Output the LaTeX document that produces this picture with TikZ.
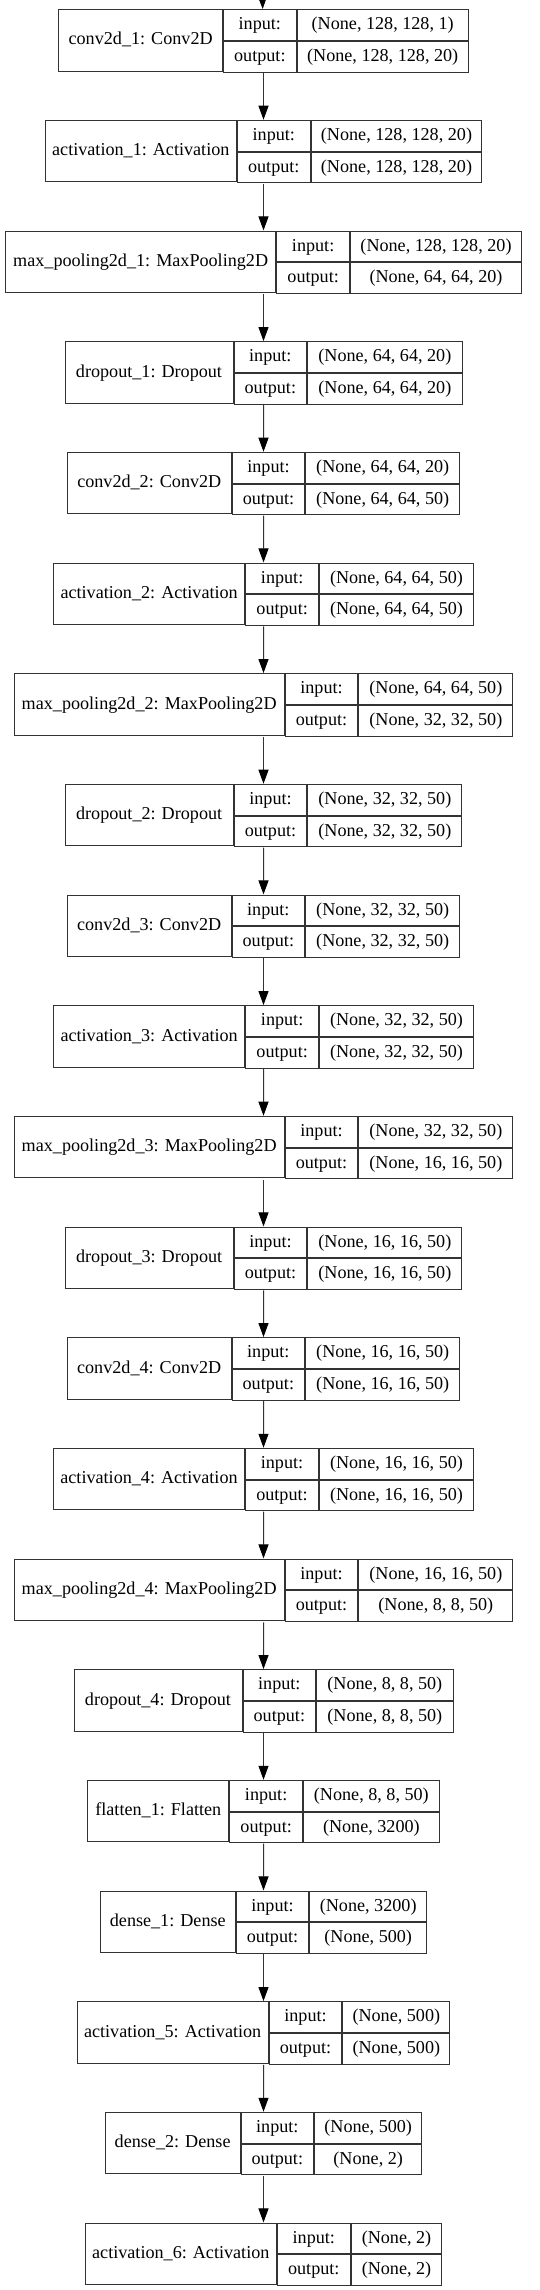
\documentclass[tikz,border=0pt]{standalone}
\usepackage{fontspec}
\setmainfont{Liberation Serif}
\usetikzlibrary{arrows.meta,fit}

% one keras layer: node, top y, name, name width, shape width, input, output
\newcommand{\netlayer}[7]{%
  \pgfmathsetmacro{\leftx}{262-(#4+72.7+#5)/2}%
  \node[namecell, minimum width=#4*0.75pt] (#1-n) at (\leftx,#2) {#3};%
  \node[cell, minimum width=72.7*0.75pt] (#1-i) at (#1-n.north east) {input:};%
  \node[cell, minimum width=72.7*0.75pt] (#1-o) at (#1-i.south west) {output:};%
  \node[cell, minimum width=#5*0.75pt] (#1-a) at (#1-i.north east) {#6};%
  \node[cell, minimum width=#5*0.75pt] (#1-b) at (#1-o.north east) {#7};%
  \node[fit=(#1-n)(#1-b), inner sep=0pt] (#1) {};%
}

\begin{document}
\begin{tikzpicture}[x=0.75pt,y=-0.75pt]
\tikzstyle{every node}=[font=\fontsize{13.6pt}{16pt}\selectfont]
\tikzstyle{cell}=[draw=black!80, line width=0.75pt, inner sep=0pt, anchor=north west, minimum height=23pt, text height=9.2pt, text depth=2.4pt]
\tikzstyle{namecell}=[cell, minimum height=46pt]
\tikzstyle{edge}=[draw=black!80, line width=0.75pt, -{Triangle[length=10.5pt,width=7.5pt,color=black]}]
\useasboundingbox (0,0) rectangle (539,2290);
\netlayer{conv1}{9.3}{conv2d\_1: Conv2D}{163.7}{171}{(None, 128, 128, 1)}{(None, 128, 128, 20)}
\netlayer{act1}{120}{activation\_1: Activation}{191.3}{170.7}{(None, 128, 128, 20)}{(None, 128, 128, 20)}
\netlayer{pool1}{230.7}{max\_pooling2d\_1: MaxPooling2D}{270.3}{171}{(None, 128, 128, 20)}{(None, 64, 64, 20)}
\netlayer{drop1}{341.3}{dropout\_1: Dropout}{168}{154.3}{(None, 64, 64, 20)}{(None, 64, 64, 20)}
\netlayer{conv2}{452}{conv2d\_2: Conv2D}{163.7}{153.7}{(None, 64, 64, 20)}{(None, 64, 64, 50)}
\netlayer{act2}{562.7}{activation\_2: Activation}{191.3}{154}{(None, 64, 64, 50)}{(None, 64, 64, 50)}
\netlayer{pool2}{673.3}{max\_pooling2d\_2: MaxPooling2D}{270}{154}{(None, 64, 64, 50)}{(None, 32, 32, 50)}
\netlayer{drop2}{784}{dropout\_2: Dropout}{168}{154}{(None, 32, 32, 50)}{(None, 32, 32, 50)}
\netlayer{conv3}{894.7}{conv2d\_3: Conv2D}{163.7}{154}{(None, 32, 32, 50)}{(None, 32, 32, 50)}
\netlayer{act3}{1005.3}{activation\_3: Activation}{191.3}{154}{(None, 32, 32, 50)}{(None, 32, 32, 50)}
\netlayer{pool3}{1116}{max\_pooling2d\_3: MaxPooling2D}{270}{154}{(None, 32, 32, 50)}{(None, 16, 16, 50)}
\netlayer{drop3}{1226.7}{dropout\_3: Dropout}{168}{154}{(None, 16, 16, 50)}{(None, 16, 16, 50)}
\netlayer{conv4}{1337.3}{conv2d\_4: Conv2D}{163.7}{154}{(None, 16, 16, 50)}{(None, 16, 16, 50)}
\netlayer{act4}{1448}{activation\_4: Activation}{191.3}{154.3}{(None, 16, 16, 50)}{(None, 16, 16, 50)}
\netlayer{pool4}{1558.7}{max\_pooling2d\_4: MaxPooling2D}{270}{154}{(None, 16, 16, 50)}{(None, 8, 8, 50)}
\netlayer{drop4}{1669.3}{dropout\_4: Dropout}{168}{136.3}{(None, 8, 8, 50)}{(None, 8, 8, 50)}
\netlayer{flat1}{1780}{flatten\_1: Flatten}{141}{135.7}{(None, 8, 8, 50)}{(None, 3200)}
\netlayer{dense1}{1890.7}{dense\_1: Dense}{134.7}{116.7}{(None, 3200)}{(None, 500)}
\netlayer{act5}{2001.3}{activation\_5: Activation}{191}{107}{(None, 500)}{(None, 500)}
\netlayer{dense2}{2112}{dense\_2: Dense}{134.7}{107}{(None, 500)}{(None, 2)}
\netlayer{act6}{2222.7}{activation\_6: Activation}{191.3}{90.7}{(None, 2)}{(None, 2)}
\coordinate (start) at (262,-20);
\draw[edge] (start) -- (conv1);
\draw[edge] (conv1) -- (act1);
\draw[edge] (act1) -- (pool1);
\draw[edge] (pool1) -- (drop1);
\draw[edge] (drop1) -- (conv2);
\draw[edge] (conv2) -- (act2);
\draw[edge] (act2) -- (pool2);
\draw[edge] (pool2) -- (drop2);
\draw[edge] (drop2) -- (conv3);
\draw[edge] (conv3) -- (act3);
\draw[edge] (act3) -- (pool3);
\draw[edge] (pool3) -- (drop3);
\draw[edge] (drop3) -- (conv4);
\draw[edge] (conv4) -- (act4);
\draw[edge] (act4) -- (pool4);
\draw[edge] (pool4) -- (drop4);
\draw[edge] (drop4) -- (flat1);
\draw[edge] (flat1) -- (dense1);
\draw[edge] (dense1) -- (act5);
\draw[edge] (act5) -- (dense2);
\draw[edge] (dense2) -- (act6);
\end{tikzpicture}
\end{document}
